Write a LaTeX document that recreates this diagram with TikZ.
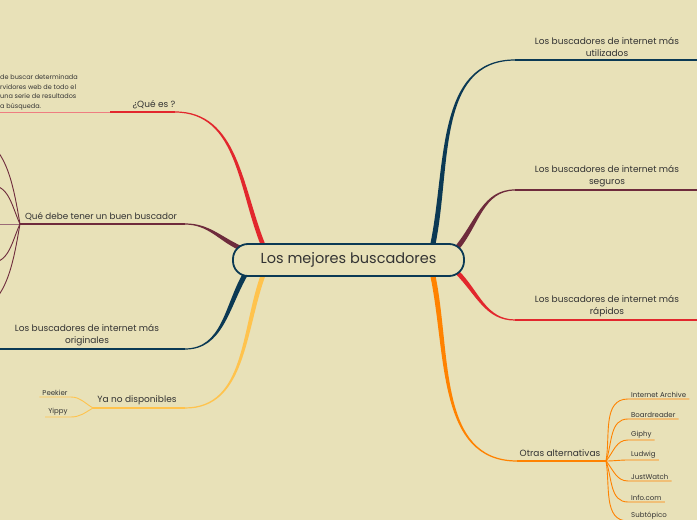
\documentclass[tikz,border=0pt]{standalone}
\usepackage{fontspec}
\setmainfont{Poppins}
\usepackage{tikz}
\usetikzlibrary{positioning,calc,backgrounds}

\definecolor{paper}{RGB}{232,225,184}
\definecolor{ink}{RGB}{51,51,51}
\definecolor{navy}{RGB}{11,57,84}
\definecolor{wine}{RGB}{110,43,60}
\definecolor{scarlet}{RGB}{226,39,45}
\definecolor{amber}{RGB}{255,195,77}
\definecolor{tangerine}{RGB}{255,130,0}

% tapered main branch: colour, start, elbow, out, in, start offset
\newcommand{\limb}[6]{%
  \fill[#1] ($(#2)+(#6)$) to[out=#4,in=#5] ($(#3)+(0,0.6)$)
    -- ($(#3)-(0,0.6)$) to[out=#5,in=#4] ($(#2)-(#6)$) -- cycle;}

\begin{document}
\begin{tikzpicture}[
        x=1pt, y=1pt,
        root/.style={
            rectangle,
            rounded corners=15pt,
            draw=navy,
            line width=1.8pt,
            fill=paper,
            text=ink,
            minimum width=231pt,
            minimum height=32pt,
            font=\fontsize{14.5}{16}\selectfont
        },
        topic/.style={
            text=ink,
            align=center,
            inner sep=1pt,
            anchor=south,
            font=\fontsize{9}{12}\selectfont
        },
        leaf/.style={
            text=ink,
            inner xsep=3pt,
            inner ysep=1pt,
            anchor=south west,
            font=\fontsize{7}{9}\selectfont
        },
        rail/.style={line width=1.1pt},
        twig/.style={line width=0.9pt}
    ]

    \useasboundingbox (0,0) rectangle (697,520);

    \node[root] (root) at (348.5,260) {Los mejores buscadores};

    % elbows and hubs
    \coordinate (que-e) at (175,408);
    \coordinate (que-c) at (110,408);
    \coordinate (debe-e) at (185,296);
    \coordinate (debe-h) at (20,296);
    \coordinate (orig-e) at (185,171);
    \coordinate (ya-e) at (185,112);
    \coordinate (ya-h) at (93,112);
    \coordinate (util-e) at (515,460);
    \coordinate (seg-e) at (515,330);
    \coordinate (rap-e) at (515,200);
    \coordinate (otras-e) at (517,59);
    \coordinate (otras-h) at (606,59);

    % topics
    \node[topic] (que) at (154,410) {¿Qué es ?};
    \node[topic, font=\fontsize{8.8}{12}\selectfont] (debe) at (101,298) {Qué debe tener un buen buscador};
    \node[topic] (orig) at (87,173) {Los buscadores de internet más\\originales};
    \node[topic] (ya) at (137,114) {Ya no disponibles};
    \node[topic] (util) at (607,462) {Los buscadores de internet más\\utilizados};
    \node[topic] (seg) at (607,332) {Los buscadores de internet más\\seguros};
    \node[topic] (rap) at (607,202) {Los buscadores de internet más\\rápidos};
    \node[topic] (otras) at (560,62) {Otras alternativas};

    % leaves
    \node[leaf, align=left, inner xsep=0pt, font=\fontsize{6.5}{9.5}\selectfont]
        (quetext) at (0,409)
        {de buscar determinada\\rvidores web de todo el\\una serie de resultados\\a búsqueda.};
    \node[leaf, anchor=south] (peekier) at (55,123) {Peekier};
    \node[leaf, anchor=south] (yippy) at (58,103) {Yippy};
    \node[leaf] (archive) at (628,121) {Internet Archive};
    \node[leaf] (board) at (628,101) {Boardreader};
    \node[leaf] (giphy) at (628,80) {Giphy};
    \node[leaf] (ludwig) at (628,60) {Ludwig};
    \node[leaf] (watch) at (628,39) {JustWatch};
    \node[leaf] (info) at (628,18) {Info.com};
    \node[leaf] (sub) at (628,-1) {Subtópico};

    \begin{scope}[on background layer]
    \fill[paper] (0,0) rectangle (697,520);

    % main branches
    \limb{scarlet}{$(root.north)+(-85,-3)$}{que-e}{112}{0}{2.1,0.9}
    \limb{wine}{$(root.west)+(8,12)$}{debe-e}{155}{0}{1,2.1}
    \limb{navy}{$(root.south)+(-103,3)$}{orig-e}{240}{0}{-2.2,1.3}
    \limb{amber}{$(root.south)+(-85,3)$}{ya-e}{250}{0}{-2.2,0.8}
    \limb{navy}{$(root.north)+(84,-3)$}{util-e}{78}{180}{-2.5,0.5}
    \limb{wine}{$(root.east)+(-8,12)$}{seg-e}{50}{180}{-1.9,1.6}
    \limb{scarlet}{$(root.east)+(-8,-12)$}{rap-e}{-45}{180}{1.6,1.6}
    \limb{tangerine}{$(root.south)+(84,3)$}{otras-e}{-78}{180}{2.5,0.5}

    % rails under the topics
    \draw[rail, scarlet] (que-e) -- (que-c);
    \draw[twig, scarlet!60] (que-c) -- (que-c -| quetext.west);
    \draw[rail, wine] (debe-e) -- (debe-h);
    \draw[rail, navy] (orig-e) -- ++(-190,0);
    \draw[rail, amber] (ya-e) -- (ya-h);
    \draw[rail, navy] (util-e) -- ++(190,0);
    \draw[rail, wine] (seg-e) -- ++(190,0);
    \draw[rail, scarlet] (rap-e) -- ++(190,0);
    \draw[rail, tangerine] (otras-e) -- (otras-h);

    % fan of the buscador branch
    \draw[twig, wine] (debe-h) to[out=100,in=0] ++(-55,89);
    \draw[twig, wine] (debe-h) to[out=115,in=0] ++(-30,39);
    \draw[twig, wine!70] (debe-h) -- ++(-25,0);
    \draw[twig, wine] (debe-h) to[out=245,in=0] ++(-30,-39);
    \draw[twig, wine] (debe-h) to[out=260,in=0] ++(-55,-89);

    % old engines
    \draw[twig, amber] (ya-h) to[out=150,in=0] (peekier.south east) -- (peekier.south west);
    \draw[twig, amber] (ya-h) to[out=210,in=0] (yippy.south east) -- (yippy.south west);

    % other engines
    \foreach \leafname/\bend in {archive/80, board/70, giphy/50, ludwig/0, watch/-50, info/-70, sub/-80}
        \draw[twig, tangerine] (otras-h) to[out=\bend,in=180] (\leafname.south west) -- (\leafname.south east);
    \end{scope}

\end{tikzpicture}
\end{document}
